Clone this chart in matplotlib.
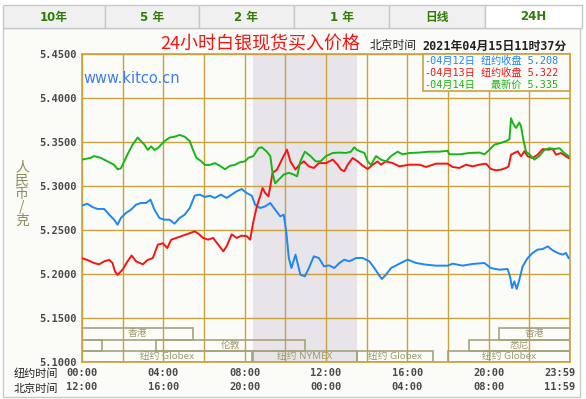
import numpy as np
import matplotlib
matplotlib.use("Agg")
import matplotlib.pyplot as plt
from matplotlib.patches import Rectangle
from matplotlib.transforms import ScaledTranslation

plt.rcParams['font.family'] = ['DejaVu Sans Mono', 'Noto Sans CJK SC']

# ---- data (NY time in hours, price in CNY/g) ----
blue_h = [0.00, 0.26, 0.51, 0.76, 1.09, 1.34, 1.58, 1.75, 1.91, 2.16, 2.41, 2.66, 2.90, 3.15,
          3.37, 3.56, 3.81, 4.06, 4.31, 4.55, 4.80, 5.05, 5.30, 5.54, 5.79, 6.04, 6.29, 6.53,
          6.83, 7.11, 7.36, 7.61, 7.85, 8.10, 8.35, 8.51, 8.76, 9.01, 9.26, 9.50, 9.75, 9.92,
          10.03, 10.10, 10.17, 10.30, 10.50, 10.74, 10.96, 11.16, 11.40, 11.65, 11.90, 12.15,
          12.41, 12.66, 12.90, 13.15, 13.48, 13.80, 14.13, 14.38, 14.59, 14.75, 14.95, 15.20,
          15.61, 16.02, 16.43, 16.92, 17.41, 17.98, 18.23, 18.72, 19.21, 19.79, 20.11, 20.52,
          20.93, 21.05, 21.15, 21.26, 21.38, 21.51, 21.67, 21.92, 22.16, 22.41, 22.66, 22.90,
          23.15, 23.39, 23.64, 23.80, 23.93]
blue_v = [5.2777, 5.2799, 5.2761, 5.2739, 5.2739, 5.2674, 5.2617, 5.2560, 5.2636, 5.2693,
          5.2731, 5.2788, 5.2807, 5.2807, 5.2845, 5.2731, 5.2636, 5.2617, 5.2617, 5.2572,
          5.2636, 5.2674, 5.2750, 5.2890, 5.2902, 5.2875, 5.2890, 5.2864, 5.2902, 5.2864,
          5.2902, 5.2940, 5.2966, 5.2920, 5.2890, 5.2788, 5.2750, 5.2769, 5.2807, 5.2731,
          5.2655, 5.2674, 5.2504, 5.2352, 5.2182, 5.2068, 5.2220, 5.1992, 5.1973, 5.2068,
          5.2201, 5.2182, 5.2087, 5.2098, 5.2068, 5.2125, 5.2163, 5.2144, 5.2182, 5.2182,
          5.2144, 5.2068, 5.1992, 5.1943, 5.1992, 5.2068, 5.2117, 5.2163, 5.2125, 5.2106,
          5.2095, 5.2095, 5.2117, 5.2095, 5.2114, 5.2125, 5.2068, 5.2049, 5.2057, 5.1973,
          5.1841, 5.1917, 5.1830, 5.1936, 5.2087, 5.2182, 5.2239, 5.2277, 5.2284, 5.2314,
          5.2269, 5.2239, 5.2220, 5.2239, 5.2182]

red_h = [0.00, 0.26, 0.59, 0.84, 1.09, 1.34, 1.50, 1.62, 1.75, 2.00, 2.24, 2.44, 2.66, 2.99,
         3.23, 3.48, 3.73, 3.98, 4.19, 4.39, 4.64, 4.88, 5.13, 5.38, 5.54, 5.71, 5.96, 6.20,
         6.45, 6.70, 6.95, 7.11, 7.36, 7.61, 7.85, 8.10, 8.27, 8.43, 8.60, 8.76, 8.88, 9.01,
         9.17, 9.26, 9.37, 9.59, 9.83, 10.08, 10.25, 10.50, 10.69, 10.91, 11.16, 11.40, 11.65,
         12.00, 12.33, 12.57, 12.74, 12.90, 13.07, 13.31, 13.56, 13.80, 14.05, 14.30, 14.54,
         14.70, 14.95, 15.28, 15.61, 16.10, 16.59, 16.92, 17.41, 17.98, 18.23, 18.56, 18.89,
         19.21, 19.54, 19.87, 20.11, 20.36, 20.61, 20.85, 20.98, 21.10, 21.26, 21.43, 21.59,
         21.75, 21.92, 22.16, 22.41, 22.66, 22.90, 23.15, 23.31, 23.56, 23.80, 23.93]
red_v = [5.2180, 5.2160, 5.2125, 5.2110, 5.2144, 5.2160, 5.2125, 5.2030, 5.1990, 5.2050,
         5.2144, 5.2210, 5.2144, 5.2110, 5.2160, 5.2180, 5.2333, 5.2350, 5.2295, 5.2390,
         5.2410, 5.2430, 5.2450, 5.2470, 5.2485, 5.2460, 5.2410, 5.2390, 5.2410, 5.2333,
         5.2258, 5.2314, 5.2450, 5.2410, 5.2436, 5.2430, 5.2390, 5.2598, 5.2769, 5.2883,
         5.2977, 5.2920, 5.2883, 5.2996, 5.3148, 5.3186, 5.3300, 5.3413, 5.3280, 5.3186,
         5.3242, 5.3280, 5.3223, 5.3205, 5.3260, 5.3260, 5.3300, 5.3242, 5.3186, 5.3167,
         5.3242, 5.3318, 5.3280, 5.3231, 5.3193, 5.3242, 5.3280, 5.3242, 5.3280, 5.3260,
         5.3223, 5.3242, 5.3242, 5.3216, 5.3254, 5.3254, 5.3216, 5.3205, 5.3242, 5.3223,
         5.3242, 5.3254, 5.3193, 5.3178, 5.3186, 5.3205, 5.3223, 5.3356, 5.3375, 5.3394,
         5.3337, 5.3394, 5.3337, 5.3318, 5.3356, 5.3420, 5.3413, 5.3420, 5.3356, 5.3375,
         5.3337, 5.3318]

green_h = [0.00, 0.43, 0.59, 0.92, 1.25, 1.58, 1.75, 1.91, 2.08, 2.24, 2.49, 2.74, 2.90, 3.07,
           3.23, 3.40, 3.56, 3.73, 3.89, 4.06, 4.31, 4.55, 4.80, 5.05, 5.30, 5.46, 5.63, 5.87,
           6.04, 6.29, 6.53, 6.78, 7.03, 7.28, 7.52, 7.77, 8.02, 8.18, 8.43, 8.68, 8.84, 9.09,
           9.26, 9.37, 9.50, 9.67, 9.92, 10.17, 10.41, 10.58, 10.74, 10.96, 11.24, 11.49, 11.73,
           12.00, 12.33, 12.66, 12.98, 13.23, 13.39, 13.51, 13.72, 13.89, 14.05, 14.21, 14.46,
           14.70, 14.95, 15.20, 15.52, 15.77, 16.10, 16.59, 17.08, 17.57, 17.98, 18.07, 18.56,
           19.05, 19.54, 19.79, 20.03, 20.28, 20.61, 20.85, 21.02, 21.10, 21.18, 21.34, 21.51,
           21.59, 21.70, 21.84, 22.00, 22.25, 22.49, 22.74, 22.98, 23.23, 23.48, 23.72, 23.93]
green_v = [5.3300, 5.3320, 5.3340, 5.3320, 5.3280, 5.3240, 5.3190, 5.3200, 5.3280, 5.3360,
           5.3470, 5.3550, 5.3510, 5.3470, 5.3410, 5.3450, 5.3410, 5.3430, 5.3470, 5.3510,
           5.3550, 5.3560, 5.3580, 5.3560, 5.3510, 5.3410, 5.3320, 5.3280, 5.3240, 5.3240,
           5.3260, 5.3230, 5.3190, 5.3230, 5.3240, 5.3270, 5.3280, 5.3320, 5.3340, 5.3430,
           5.3440, 5.3390, 5.3340, 5.3150, 5.3030, 5.3070, 5.3130, 5.3150, 5.3130, 5.3110,
           5.3280, 5.3390, 5.3340, 5.3280, 5.3280, 5.3340, 5.3375, 5.3380, 5.3375, 5.3390,
           5.3440, 5.3410, 5.3390, 5.3375, 5.3280, 5.3240, 5.3340, 5.3300, 5.3280, 5.3340,
           5.3390, 5.3360, 5.3375, 5.3380, 5.3390, 5.3390, 5.3400, 5.3360, 5.3360, 5.3375,
           5.3380, 5.3360, 5.3410, 5.3470, 5.3490, 5.3510, 5.3530, 5.3770, 5.3720, 5.3660,
           5.3720, 5.3680, 5.3530, 5.3390, 5.3360, 5.3300, 5.3340, 5.3410, 5.3430, 5.3420,
           5.3430, 5.3375, 5.3340]

series_dates = ["-04月12日", "-04月13日", "-04月14日"]
series_notes = ["纽约收盘 5.208", "纽约收盘 5.322", "最新价 5.335"]

# market sessions: row 0 top, start/end in NY hours
sess_row = [0, 0, 1, 1, 1, 2, 2, 2, 2]
sess_start = [0, 20.53, 0, 19.04, 3.64, 0, 8.40, 13.50, 18.00]
sess_end = [5.46, 24, 0.97, 24, 10.97, 8.36, 13.50, 17.27, 24]
sess_label = ["香港", "香港", "", "悉尼", "伦敦", "纽约 Globex", "纽约 NYMEX", "纽约 Globex", "纽约 Globex"]
nymex_span = (8.40, 13.50)

tick_hours = [0, 4, 8, 12, 16, 20, 24]
ny_labels = ["00:00", "04:00", "08:00", "12:00", "16:00", "20:00", "23:59"]
bj_labels = ["12:00", "16:00", "20:00", "00:00", "04:00", "08:00", "11:59"]
yticks = [5.10, 5.15, 5.20, 5.25, 5.30, 5.35, 5.40, 5.45]

tabs = ["10年", "5 年", "2 年", "1 年", "日线", "24H"]

# ---- styles ----
W, H = 586, 399
bg = "#fbfcf8"
gold = "#c9a23f"
olive = "#a7a37c"
c_blue, c_red, c_green = "#1e86f5", "#f41414", "#18b418"

fig = plt.figure(figsize=(W / 100, H / 100), dpi=100, facecolor="white")

# overlay in pixel coordinates for the frame, tabs and free text
ov = fig.add_axes([0, 0, 1, 1], zorder=0)
ov.set_xlim(0, W)
ov.set_ylim(H, 0)
ov.axis("off")

ov.add_patch(Rectangle((3, 28), 577, 369, facecolor=bg, edgecolor="#c8c8c8", lw=1))
tab_edges = [3, 105, 199, 294, 389, 485, 582]
for i, name in enumerate(tabs):
    x0, x1 = tab_edges[i], tab_edges[i + 1]
    last = i == len(tabs) - 1
    ov.add_patch(Rectangle((x0, 5), x1 - x0, 23,
                           facecolor="white" if last else "#f0f0f0",
                           edgecolor="#c8c8c8", lw=1))
    ov.text((x0 + x1) / 2, 17, name, ha="center", va="center", fontsize=8.5,
            fontweight="bold", color="#2f7d06", family=["DejaVu Sans", "Noto Sans CJK SC"])

ov.text(160, 44, "24小时白银现货买入价格", fontsize=13, color="#f41414",
        va="center", ha="left", family=["Noto Sans CJK SC"])
ov.text(370, 46, "北京时间", fontsize=8.5, color="#222222", va="center", ha="left",
        family=["Noto Sans CJK SC"])
ov.text(567, 46, "2021年04月15日11时37分", fontsize=8.5, color="#222222",
        va="center", ha="right", fontweight="bold")

ov.text(22, 194, "人\n民\n币\n/\n克", fontsize=10, color="#8e8a5c", ha="center",
        va="center", linespacing=0.95, family=["Noto Sans CJK SC"])
ov.text(14, 374, "纽约时间", fontsize=8, color="#222222", va="center", ha="left",
        family=["Noto Sans CJK SC"])
ov.text(14, 389, "北京时间", fontsize=8, color="#222222", va="center", ha="left",
        family=["Noto Sans CJK SC"])

# ---- main chart ----
ax = fig.add_axes([82 / W, 1 - 362 / H, 488 / W, 308 / H], zorder=1)
ax.set_facecolor(bg)
ax.set_xlim(0, 24)
ax.set_ylim(5.10, 5.45)

ax.axvspan(*nymex_span, color="#e8e5ea", lw=0, zorder=0)

ax.set_xticks(np.arange(0, 25, 2), minor=True)
ax.set_xticks(tick_hours)
ax.set_xticklabels([f"{a}\n{b}" for a, b in zip(ny_labels, bj_labels)])
ax.set_yticks(yticks)
ax.set_yticklabels([f"{v:.4f}" for v in yticks])
ax.grid(True, which="both", axis="x", color=gold, lw=1)
ax.grid(True, which="major", axis="y", color=gold, lw=1)
ax.set_axisbelow(True)
ax.tick_params(which="both", length=0)
ax.tick_params(axis="y", pad=4, labelsize=7.5, labelcolor="#4a4a4a")
ax.tick_params(axis="x", pad=4, labelsize=7.5, labelcolor="#4a4a4a")
for t in ax.get_yticklabels() + ax.get_xticklabels():
    t.set_fontweight("bold")
for t in ax.get_xticklabels():
    t.set_linespacing(1.6)
lab = ax.get_xticklabels()[-1]
lab.set_transform(lab.get_transform() + ScaledTranslation(-10 / 100, 0, fig.dpi_scale_trans))
for s in ax.spines.values():
    s.set_color(gold)
    s.set_linewidth(1.2)

# session boxes
row_bottom = [5.1255, 5.1125, 5.100]
row_h = 0.013
for r, s0, s1, name in zip(sess_row, sess_start, sess_end, sess_label):
    ax.add_patch(Rectangle((s0, row_bottom[r]), s1 - s0, row_h, fill=False,
                           edgecolor=olive, lw=1.2, zorder=1))
    if name:
        ax.text((s0 + s1) / 2, row_bottom[r] + row_h / 2, name, ha="center", va="center",
                fontsize=7, color="#9c9a72", zorder=2, family=["Noto Sans", "Noto Sans CJK SC"])

ax.plot(blue_h, blue_v, color=c_blue, lw=1.4, zorder=3)
ax.plot(red_h, red_v, color=c_red, lw=1.4, zorder=3)
ax.plot(green_h, green_v, color=c_green, lw=1.4, zorder=3)

ax.text(0.05, 5.4225, "www.kitco.cn", fontsize=10.5, color="#3f7ee6", ha="left",
        va="center", family=["DejaVu Sans"], zorder=4)

# legend box (pixel coords via overlay on top)
top = fig.add_axes([0, 0, 1, 1], zorder=2)
top.set_xlim(0, W)
top.set_ylim(H, 0)
top.axis("off")
top.add_patch(Rectangle((423, 54), 147, 37, facecolor=bg, edgecolor=gold, lw=1.2))
for i, (d, n, c) in enumerate(zip(series_dates, series_notes, [c_blue, c_red, c_green])):
    y = 61 + 12 * i
    top.text(424, y, d, fontsize=7.3, color=c, va="center", ha="left")
    top.text(558, y, n, fontsize=7.3, color=c, va="center", ha="right")

fig.savefig("out.png", dpi=100, facecolor="white")
